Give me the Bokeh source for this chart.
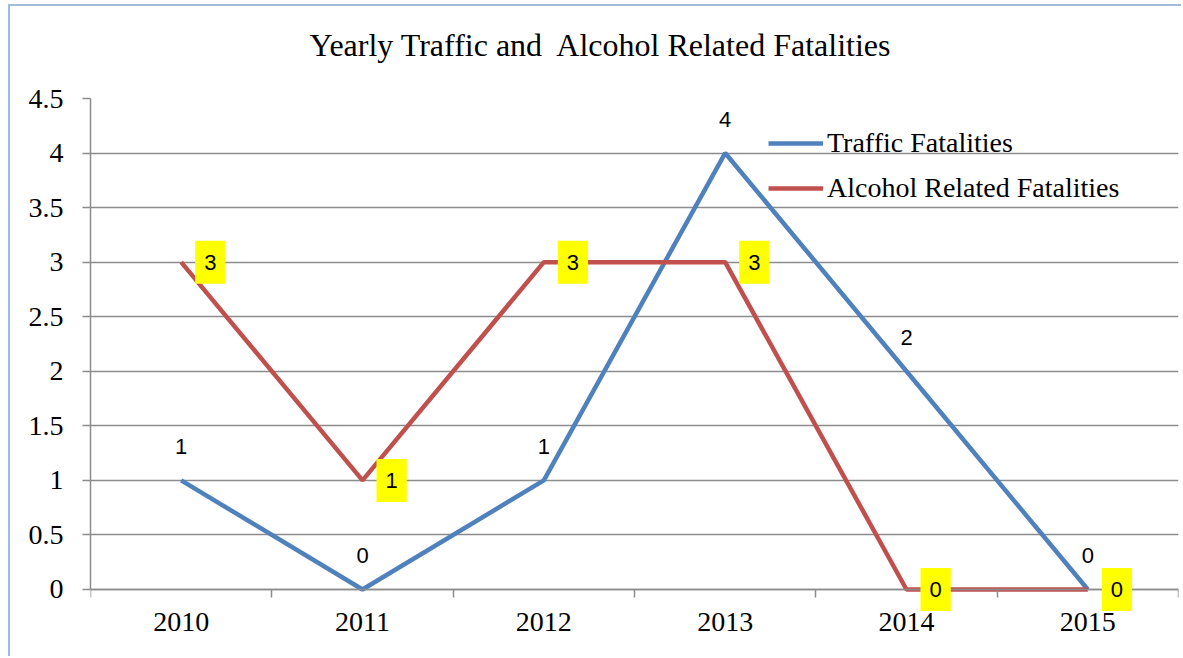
from bokeh.plotting import figure
from bokeh.models import (ColumnDataSource, LabelSet, Label, Legend, LegendItem, FixedTicker,
                          Range1d, Title)
from bokeh.core.properties import value
from bokeh.embed import file_html
from bokeh.resources import INLINE

years = ["2010", "2011", "2012", "2013", "2014", "2015"]
traffic = [1, 0, 1, 4, 2, 0]
alcohol = [3, 1, 3, 3, 0, 0]
y_ticks = [0, 0.5, 1, 1.5, 2, 2.5, 3, 3.5, 4, 4.5]

xs = [i + 0.5 for i in range(len(years))]
bounds = [i for i in range(len(years) + 1)]

src = ColumnDataSource(dict(
    x=xs, year=years, traffic=traffic, alcohol=alcohol,
    tlab=[str(v) for v in traffic], alab=[str(v) for v in alcohol],
))

BLUE = "#4F81BD"
RED = "#C0504D"
GRID = "#8c8c8c"
SERIF = "Liberation Serif"
SANS = "Liberation Sans"

# the frame reaches the canvas bottom; the x axis sits at y = 0 inside it
p = figure(width=1173, height=652, output_backend="svg", toolbar_location=None,
           x_range=Range1d(0, len(years)), y_range=Range1d(-0.6324, 4.5),
           min_border_left=80, min_border_right=5, min_border_bottom=0, min_border_top=92,
           outline_line_color=None)
p.styles = {"border-left": "2px solid #a3bcdd", "border-top": "2px solid #a3bcdd",
            "margin-left": "8px", "margin-top": "4px"}

title_kw = dict(text="Yearly Traffic and\u00a0 Alcohol Related Fatalities", align="left",
                offset=219, vertical_align="top", text_font=SERIF, text_font_size="32px",
                text_font_style="normal", text_color="#000000", standoff=38)
if "padding" in Title.properties():
    title_kw["padding"] = dict(left=0, right=0, top=0, bottom=15)
else:
    title_kw["standoff"] = 53
p.title = Title(**title_kw)

# axes
p.xaxis.fixed_location = 0
p.xaxis.ticker = FixedTicker(ticks=xs, minor_ticks=bounds)
p.xaxis.major_label_overrides = {x: y for x, y in zip(xs, years)}
p.xaxis.major_tick_line_color = None
p.xaxis.minor_tick_in = 0
p.xaxis.minor_tick_out = 8
p.xaxis.minor_tick_line_color = GRID
p.xaxis.minor_tick_line_width = 1.5
p.xaxis.axis_line_color = GRID
p.xaxis.axis_line_width = 1.5
p.xaxis.major_label_text_font = SERIF
p.xaxis.major_label_text_font_size = "28px"
p.xaxis.major_label_text_color = "#000000"
p.xaxis.major_label_standoff = 16

p.yaxis.bounds = (y_ticks[0], y_ticks[-1])
p.yaxis.ticker = FixedTicker(ticks=y_ticks)
p.yaxis.major_label_overrides = {t: f"{t:g}" for t in y_ticks}
p.yaxis.major_tick_in = 0
p.yaxis.major_tick_out = 8
p.yaxis.major_tick_line_color = GRID
p.yaxis.major_tick_line_width = 1.5
p.yaxis.minor_tick_line_color = None
p.yaxis.axis_line_color = GRID
p.yaxis.axis_line_width = 1.5
p.yaxis.major_label_text_font = SERIF
p.yaxis.major_label_text_font_size = "28px"
p.yaxis.major_label_text_color = "#000000"
p.yaxis.major_label_standoff = 19

p.xgrid.grid_line_color = None
p.ygrid.grid_line_color = GRID
p.ygrid.grid_line_width = 1.5

r1 = p.line("x", "traffic", source=src, line_color=BLUE, line_width=4.5)
r2 = p.line("x", "alcohol", source=src, line_color=RED, line_width=4.5)

tl = LabelSet(x="x", y="traffic", text="tlab", source=src, text_align="center",
              text_baseline="middle", y_offset=34, text_font=value(SANS),
              text_font_size=value("22px"), text_color="#000000")
p.add_layout(tl)

for xv, yv, lab in zip(xs, alcohol, src.data["alab"]):
    p.add_layout(Label(x=xv, y=yv, text=lab, text_align="left", text_baseline="middle",
                       x_offset=14, text_font=SANS, text_font_size="22px",
                       text_color="#000000", background_fill_color="#FFFF00",
                       padding=dict(left=9, right=9, top=14, bottom=14)))

legend = Legend(items=[LegendItem(label="Traffic Fatalities", renderers=[r1]),
                       LegendItem(label="Alcohol Related Fatalities", renderers=[r2])],
                location=(678, 454), orientation="vertical",
                background_fill_alpha=0, border_line_color=None,
                padding=0, margin=0, spacing=13, glyph_width=55, glyph_height=30,
                label_standoff=4, label_text_font=SERIF, label_text_font_size="28px",
                label_text_color="#000000", label_height=30)
p.add_layout(legend)

open("out.html", "w").write(file_html(p, INLINE))
